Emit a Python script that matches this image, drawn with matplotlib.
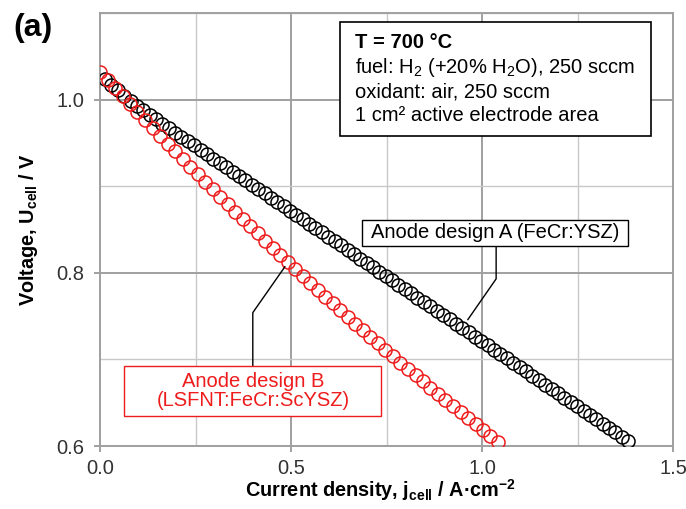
import numpy as np
import matplotlib
matplotlib.use("Agg")
import matplotlib.pyplot as plt
from matplotlib.patches import Rectangle
from matplotlib.ticker import MultipleLocator, FormatStrFormatter

plt.rcParams['font.family'] = ['Liberation Sans', 'DejaVu Sans']
plt.rcParams['mathtext.fontset'] = 'custom'
plt.rcParams['mathtext.rm'] = 'Liberation Sans'
plt.rcParams['mathtext.it'] = 'Liberation Sans:italic'
plt.rcParams['mathtext.bf'] = 'Liberation Sans:bold'

# design A (FeCr:YSZ), black
j_a = [0.013, 0.030, 0.046, 0.063, 0.080, 0.097, 0.113, 0.130, 0.147, 0.163,
       0.180, 0.197, 0.213, 0.230, 0.247, 0.264, 0.280, 0.297, 0.314, 0.330,
       0.347, 0.364, 0.380, 0.397, 0.414, 0.431, 0.447, 0.464, 0.481, 0.497,
       0.514, 0.531, 0.547, 0.564, 0.581, 0.598, 0.614, 0.631, 0.648, 0.664,
       0.681, 0.698, 0.714, 0.731, 0.748, 0.765, 0.781, 0.798, 0.815, 0.831,
       0.848, 0.865, 0.881, 0.898, 0.915, 0.932, 0.948, 0.965, 0.982, 0.998,
       1.015, 1.032, 1.048, 1.065, 1.082, 1.099, 1.115, 1.132, 1.149, 1.165,
       1.182, 1.199, 1.215, 1.232, 1.249, 1.266, 1.282, 1.299, 1.316, 1.332,
       1.349, 1.366, 1.382]
u_a = [1.0242, 1.0172, 1.0107, 1.0046, 0.9988, 0.9931, 0.9876, 0.9821, 0.9771, 0.9720,
       0.9670, 0.9620, 0.9570, 0.9520, 0.9470, 0.9419, 0.9369, 0.9319, 0.9269, 0.9219,
       0.9168, 0.9118, 0.9068, 0.9018, 0.8968, 0.8918, 0.8867, 0.8817, 0.8767, 0.8717,
       0.8667, 0.8617, 0.8566, 0.8516, 0.8466, 0.8416, 0.8366, 0.8316, 0.8265, 0.8215,
       0.8165, 0.8115, 0.8065, 0.8015, 0.7964, 0.7914, 0.7864, 0.7814, 0.7764, 0.7714,
       0.7663, 0.7613, 0.7563, 0.7513, 0.7463, 0.7413, 0.7362, 0.7312, 0.7262, 0.7212,
       0.7162, 0.7111, 0.7061, 0.7011, 0.6961, 0.6911, 0.6861, 0.6810, 0.6760, 0.6710,
       0.6660, 0.6610, 0.6560, 0.6509, 0.6459, 0.6409, 0.6359, 0.6309, 0.6259, 0.6208,
       0.6158, 0.6108, 0.6058]

# design B (LSFNT:FeCr:ScYSZ), red
j_b = [0.000, 0.020, 0.039, 0.059, 0.079, 0.098, 0.118, 0.138, 0.157, 0.177,
       0.197, 0.216, 0.236, 0.256, 0.275, 0.295, 0.315, 0.334, 0.354, 0.374,
       0.393, 0.413, 0.433, 0.452, 0.472, 0.492, 0.511, 0.531, 0.550, 0.570,
       0.590, 0.609, 0.629, 0.649, 0.668, 0.688, 0.708, 0.727, 0.747, 0.767,
       0.786, 0.806, 0.826, 0.845, 0.865, 0.885, 0.904, 0.924, 0.944, 0.963,
       0.983, 1.003, 1.022, 1.042]
u_b = [1.0320, 1.0226, 1.0133, 1.0040, 0.9947, 0.9855, 0.9764, 0.9673, 0.9583, 0.9493,
       0.9403, 0.9315, 0.9226, 0.9139, 0.9051, 0.8965, 0.8878, 0.8793, 0.8707, 0.8623,
       0.8539, 0.8455, 0.8372, 0.8289, 0.8207, 0.8125, 0.8044, 0.7964, 0.7884, 0.7804,
       0.7725, 0.7647, 0.7569, 0.7491, 0.7414, 0.7338, 0.7262, 0.7186, 0.7112, 0.7037,
       0.6963, 0.6890, 0.6817, 0.6745, 0.6673, 0.6602, 0.6531, 0.6461, 0.6391, 0.6322,
       0.6253, 0.6185, 0.6117, 0.6050]

label_a = "Anode design A (FeCr:YSZ)"
label_b = "Anode design B\n(LSFNT:FeCr:ScYSZ)"
info_title = "T = 700 °C"
info_lines = ["fuel: H$_2$ (+20% H$_2$O), 250 sccm",
              "oxidant: air, 250 sccm",
              "1 cm² active electrode area"]

# leader lines of the callouts (data coords)
lead_a_x = [1.037, 1.037, 0.963]
lead_a_y = [0.831, 0.793, 0.746]
lead_b_x = [0.400, 0.400, 0.484]
lead_b_y = [0.6925, 0.754, 0.807]

W, H = 686, 509
L, R, T, B = 100, 673, 13, 446
fig = plt.figure(figsize=(W/100, H/100), dpi=100)
ax = fig.add_axes([L/W, 1-B/H, (R-L)/W, (B-T)/H])


def ax_px(px, py):
    # pixel position in the figure -> axes fraction
    return (px-L)/(R-L), (B-py)/(B-T)


def box(x0, y0, x1, y1, ec, lw):
    bx, by = ax_px(x0, y1)
    ax.add_patch(Rectangle((bx, by), (x1-x0)/(R-L), (y1-y0)/(B-T), transform=ax.transAxes,
                           fc='white', ec=ec, lw=lw, zorder=5))


red = '#ee1c1c'
ax.plot(j_a, u_a, 'o', mfc='none', mec='black', ms=9.4, mew=1.1, zorder=3)
ax.plot(j_b, u_b, 'o', mfc='none', mec=red, ms=9.4, mew=1.1, zorder=4)

ax.set_xlim(0, 1.5)
ax.set_ylim(0.6, 1.1)
ax.xaxis.set_major_locator(MultipleLocator(0.5))
ax.xaxis.set_minor_locator(MultipleLocator(0.25))
ax.yaxis.set_minor_locator(MultipleLocator(0.1))
ax.set_yticks([0.6, 0.8, 1.0])
ax.xaxis.set_major_formatter(FormatStrFormatter('%.1f'))
ax.yaxis.set_major_formatter(FormatStrFormatter('%.1f'))

ax.grid(which='major', color='#a0a0a0', lw=1.4, zorder=0)
ax.grid(which='minor', color='#c8c8c8', lw=1.0, zorder=0)
ax.set_axisbelow(True)
for s in ax.spines.values():
    s.set_color('#a0a0a0')
    s.set_linewidth(1.4)
ax.tick_params(which='major', length=4, width=1.4, color='#a0a0a0',
               labelsize=14.5, labelcolor='#333333')
ax.tick_params(axis='x', which='major', pad=5)
ax.tick_params(axis='y', which='major', pad=7)
ax.tick_params(which='minor', length=0)

ax.set_xlabel(r"Current density, $\mathbf{j_{cell}}$ / A·cm$^{\mathbf{-2}}$",
              fontsize=14.3, fontweight='bold')
ax.set_ylabel(r"Voltage, $\mathbf{U_{cell}}$ / V", fontsize=14.3, fontweight='bold')
ax.xaxis.set_label_coords(0.489, -0.072)
ax.yaxis.set_label_coords(-0.105, 0.5)

# info box
box(340, 22, 651, 136, 'black', 1.2)
tx, _ = ax_px(355, 0)
ax.text(tx, ax_px(0, 48)[1], info_title, transform=ax.transAxes,
        fontsize=14.5, fontweight='bold', va='baseline', ha='left', zorder=6)
for line, base in zip(info_lines, [73, 97, 121]):
    ax.text(tx, ax_px(0, base)[1], line, transform=ax.transAxes,
            fontsize=14.5, va='baseline', ha='left', zorder=6)

# callouts
ax.plot(lead_a_x, lead_a_y, color='black', lw=1.0, zorder=5)
ax.plot(lead_b_x, lead_b_y, color='black', lw=1.0, zorder=5)
box(362, 220, 628, 246, 'black', 1.0)
ax.text(*ax_px(495, 233), label_a, transform=ax.transAxes,
        fontsize=14.5, ha='center', va='center', zorder=6)
box(124, 366, 381, 416, red, 1.0)
ax.text(*ax_px(253, 391), label_b, transform=ax.transAxes,
        fontsize=14.5, ha='center', va='center', color=red, zorder=6,
        linespacing=1.05)

fig.text(13/W, 1-13/H, "(a)", fontsize=23, fontweight='bold', va='top', ha='left')

fig.savefig("out.png", dpi=100)
